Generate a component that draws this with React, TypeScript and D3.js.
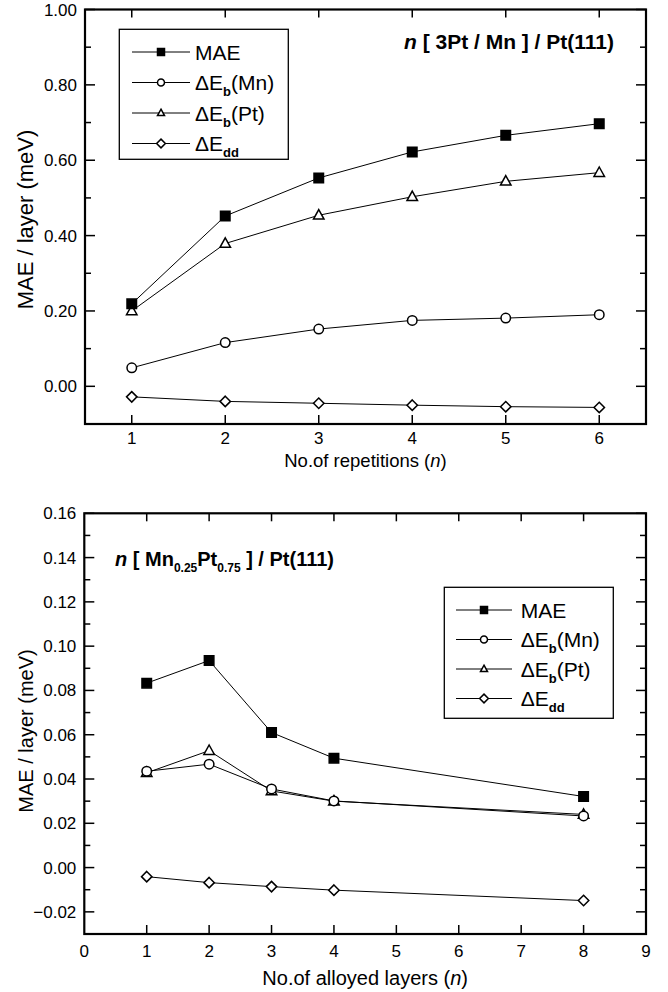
import React from "react";
import * as d3 from "d3";

const topX = [1, 2, 3, 4, 5, 6];
const topMAE = [0.219, 0.452, 0.553, 0.622, 0.666, 0.697];
const topMn = [0.049, 0.116, 0.152, 0.175, 0.181, 0.19];
const topPt = [0.2, 0.379, 0.454, 0.503, 0.544, 0.567];
const topDd = [-0.028, -0.04, -0.045, -0.05, -0.054, -0.056];
const topYMajor = [0, 0.2, 0.4, 0.6, 0.8, 1.0];
const topYMinor = [0.1, 0.3, 0.5, 0.7, 0.9];
const topXTicks = [1, 2, 3, 4, 5, 6];

const botX = [1, 2, 3, 4, 8];
const botMAE = [0.0833, 0.0935, 0.061, 0.0494, 0.0321];
const botMn = [0.0435, 0.0467, 0.0355, 0.0301, 0.0233];
const botPt = [0.0428, 0.0528, 0.0346, 0.03, 0.024];
const botDd = [-0.0041, -0.0068, -0.0086, -0.0102, -0.0149];
const botYMajor = [-0.02, 0, 0.02, 0.04, 0.06, 0.08, 0.1, 0.12, 0.14, 0.16];
const botYMinor = [-0.01, 0.01, 0.03, 0.05, 0.07, 0.09, 0.11, 0.13, 0.15];
const botXLabels = [0, 1, 2, 3, 4, 5, 6, 7, 8, 9];
const botXTicks = [1, 2, 3, 4, 5, 6, 7, 8];

const FONT = "'Liberation Sans', Arial, Helvetica, sans-serif";

type Kind = "square" | "circle" | "triangle" | "diamond";

function markerPath(kind: Kind, cx: number, cy: number, s: number): string {
  const p = d3.path();
  if (kind === "square") {
    p.rect(cx - s / 2, cy - s / 2, s, s);
  } else if (kind === "circle") {
    p.moveTo(cx + s / 2, cy);
    p.arc(cx, cy, s / 2, 0, Math.PI * 2);
    p.closePath();
  } else if (kind === "triangle") {
    const h = s * 0.9;
    p.moveTo(cx, cy - h * 0.6);
    p.lineTo(cx + s / 2, cy + h * 0.4);
    p.lineTo(cx - s / 2, cy + h * 0.4);
    p.closePath();
  } else {
    const r = s * 0.55;
    p.moveTo(cx, cy - r);
    p.lineTo(cx + r, cy);
    p.lineTo(cx, cy + r);
    p.lineTo(cx - r, cy);
    p.closePath();
  }
  return p.toString();
}

function Marker({ kind, cx, cy, s }: { kind: Kind; cx: number; cy: number; s: number }) {
  return (
    <path
      d={markerPath(kind, cx, cy, s)}
      fill={kind === "square" ? "#000" : "#fff"}
      stroke="#000"
      strokeWidth={1.5}
    />
  );
}

type Series = { kind: Kind; values: number[] };

type PanelProps = {
  xDomain: [number, number];
  yDomain: [number, number];
  left: number;
  right: number;
  top: number;
  bottom: number;
  xs: number[];
  series: Series[];
  yMajor: number[];
  yMinor: number[];
  xTicks: number[];
  xLabels: number[];
  xLabelBaseline: number;
  yLabelX: number;
  yLabelY: number;
  yLabelSize: number;
  xTitle: string;
  xTitleY: number;
  xTitleSize: number;
  legend: { x1: number; x2: number; xm: number; xt: number; ys: number[]; box: [number, number, number, number] };
  title: React.ReactNode;
};

function Panel(p: PanelProps) {
  const x = d3.scaleLinear().domain(p.xDomain).range([p.left, p.right]);
  const y = d3.scaleLinear().domain(p.yDomain).range([p.bottom, p.top]);
  const fmt = d3.format(".2f");
  const line = d3
    .line<[number, number]>()
    .x((d) => x(d[0]))
    .y((d) => y(d[1]));
  const drawOrder: Kind[] = ["triangle", "square", "circle", "diamond"];
  const ordered = drawOrder.map((k) => p.series.find((s) => s.kind === k)!);
  const legendOrder: Kind[] = ["square", "circle", "triangle", "diamond"];
  const legendText = (k: Kind) => {
    if (k === "square") return <tspan>MAE</tspan>;
    if (k === "circle")
      return (
        <>
          <tspan>ΔE</tspan>
          <tspan fontSize={13} fontWeight="bold" dy={6}>b</tspan>
          <tspan dy={-6}>(Mn)</tspan>
        </>
      );
    if (k === "triangle")
      return (
        <>
          <tspan>ΔE</tspan>
          <tspan fontSize={13} fontWeight="bold" dy={6}>b</tspan>
          <tspan dy={-6}>(Pt)</tspan>
        </>
      );
    return (
      <>
        <tspan>ΔE</tspan>
        <tspan fontSize={13} fontWeight="bold" dy={6}>dd</tspan>
      </>
    );
  };
  const lg = p.legend;
  return (
    <g fontFamily={FONT}>
      {p.yMajor.map((v) => (
        <g key={"ym" + v}>
          <line x1={p.left} x2={p.left + 10} y1={y(v)} y2={y(v)} stroke="#000" strokeWidth={1.5} />
          <line x1={p.right} x2={p.right - 10} y1={y(v)} y2={y(v)} stroke="#000" strokeWidth={1.5} />
          <text x={p.left - 8} y={y(v) + 6} textAnchor="end" fontSize={17}>
            {fmt(v)}
          </text>
        </g>
      ))}
      {p.yMinor.map((v) => (
        <g key={"yn" + v}>
          <line x1={p.left} x2={p.left + 6} y1={y(v)} y2={y(v)} stroke="#000" strokeWidth={1.5} />
          <line x1={p.right} x2={p.right - 6} y1={y(v)} y2={y(v)} stroke="#000" strokeWidth={1.5} />
        </g>
      ))}
      {p.xTicks.map((v) => (
        <g key={"xt" + v}>
          <line x1={x(v)} x2={x(v)} y1={p.bottom} y2={p.bottom - 9} stroke="#000" strokeWidth={1.5} />
          <line x1={x(v)} x2={x(v)} y1={p.top} y2={p.top + 8} stroke="#000" strokeWidth={1.5} />
        </g>
      ))}
      {p.xLabels.map((v) => (
        <text key={"xl" + v} x={x(v)} y={p.xLabelBaseline} textAnchor="middle" fontSize={17}>
          {v}
        </text>
      ))}
      <rect
        x={p.left}
        y={p.top}
        width={p.right - p.left}
        height={p.bottom - p.top}
        fill="none"
        stroke="#000"
        strokeWidth={2.2}
      />
      <rect
        x={lg.box[0]}
        y={lg.box[1]}
        width={lg.box[2] - lg.box[0]}
        height={lg.box[3] - lg.box[1]}
        fill="#fff"
        stroke="#000"
        strokeWidth={1.3}
      />
      {legendOrder.map((k, i) => (
        <g key={"lg" + k}>
          <line x1={lg.x1} x2={lg.x2} y1={lg.ys[i]} y2={lg.ys[i]} stroke="#000" strokeWidth={1} />
          <Marker kind={k} cx={lg.xm} cy={lg.ys[i]} s={k === "diamond" ? 8 : 7} />
          <text x={lg.xt} y={lg.ys[i] + 7.5} fontSize={21}>
            {legendText(k)}
          </text>
        </g>
      ))}
      {p.title}
      {p.series.map((s) => (
        <path
          key={"ln" + s.kind}
          d={line(p.xs.map((xv, i) => [xv, s.values[i]] as [number, number])) || ""}
          fill="none"
          stroke="#000"
          strokeWidth={1}
        />
      ))}
      {ordered.map((s) =>
        p.xs.map((xv, i) => (
          <Marker key={s.kind + i} kind={s.kind} cx={x(xv)} cy={y(s.values[i])} s={s.kind === "triangle" ? 10.5 : 9.5} />
        ))
      )}
      <text
        transform={`translate(${p.yLabelX},${p.yLabelY}) rotate(-90)`}
        textAnchor="middle"
        fontSize={p.yLabelSize}
      >
        MAE / layer (meV)
      </text>
      <text x={(p.left + p.right) / 2} y={p.xTitleY} textAnchor="middle" fontSize={p.xTitleSize}>
        {p.xTitle} (<tspan fontStyle="italic">n</tspan>)
      </text>
    </g>
  );
}

export default function App() {
  return (
    <svg
      width={668}
      height={992}
      style={{ position: "absolute", left: 0, top: 0, background: "#fff" }}
    >
      <rect x={0} y={0} width={668} height={992} fill="#fff" />
      <Panel
        xDomain={[0.5, 6.5]}
        yDomain={[-0.1, 1.0]}
        left={85}
        right={646}
        top={9.5}
        bottom={424}
        xs={topX}
        series={[
          { kind: "square", values: topMAE },
          { kind: "circle", values: topMn },
          { kind: "triangle", values: topPt },
          { kind: "diamond", values: topDd },
        ]}
        yMajor={topYMajor}
        yMinor={topYMinor}
        xTicks={topXTicks}
        xLabels={topXTicks}
        xLabelBaseline={444}
        yLabelX={33}
        yLabelY={219.5}
        yLabelSize={22}
        xTitle="No.of repetitions"
        xTitleY={467}
        xTitleSize={18.5}
        legend={{ x1: 132, x2: 190, xm: 161, xt: 195, ys: [52, 82.5, 113, 143.5], box: [119.3, 29.3, 288.3, 159.3] }}
        title={
          <text x={614} y={49} textAnchor="end" fontSize={21} fontWeight="bold">
            <tspan fontStyle="italic">n</tspan> [ 3Pt / Mn ] / Pt(111)
          </text>
        }
      />
      <Panel
        xDomain={[0, 9]}
        yDomain={[-0.03, 0.16]}
        left={84.3}
        right={646}
        top={513.3}
        bottom={934}
        xs={botX}
        series={[
          { kind: "square", values: botMAE },
          { kind: "circle", values: botMn },
          { kind: "triangle", values: botPt },
          { kind: "diamond", values: botDd },
        ]}
        yMajor={botYMajor}
        yMinor={botYMinor}
        xTicks={botXTicks}
        xLabels={botXLabels}
        xLabelBaseline={957}
        yLabelX={33}
        yLabelY={731}
        yLabelSize={20}
        xTitle="No.of alloyed layers"
        xTitleY={985}
        xTitleSize={20}
        legend={{ x1: 456, x2: 512, xm: 484, xt: 520.7, ys: [610, 639.5, 669, 698.5], box: [444.3, 587.3, 613.3, 718.3] }}
        title={
          <text x={115} y={566} fontSize={20} fontWeight="bold">
            <tspan fontStyle="italic">n</tspan> [ Mn
            <tspan fontSize={12} dy={6}>0.25</tspan>
            <tspan dy={-6}>Pt</tspan>
            <tspan fontSize={12} dy={6}>0.75</tspan>
            <tspan dy={-6}> ] / Pt(111)</tspan>
          </text>
        }
      />
    </svg>
  );
}
